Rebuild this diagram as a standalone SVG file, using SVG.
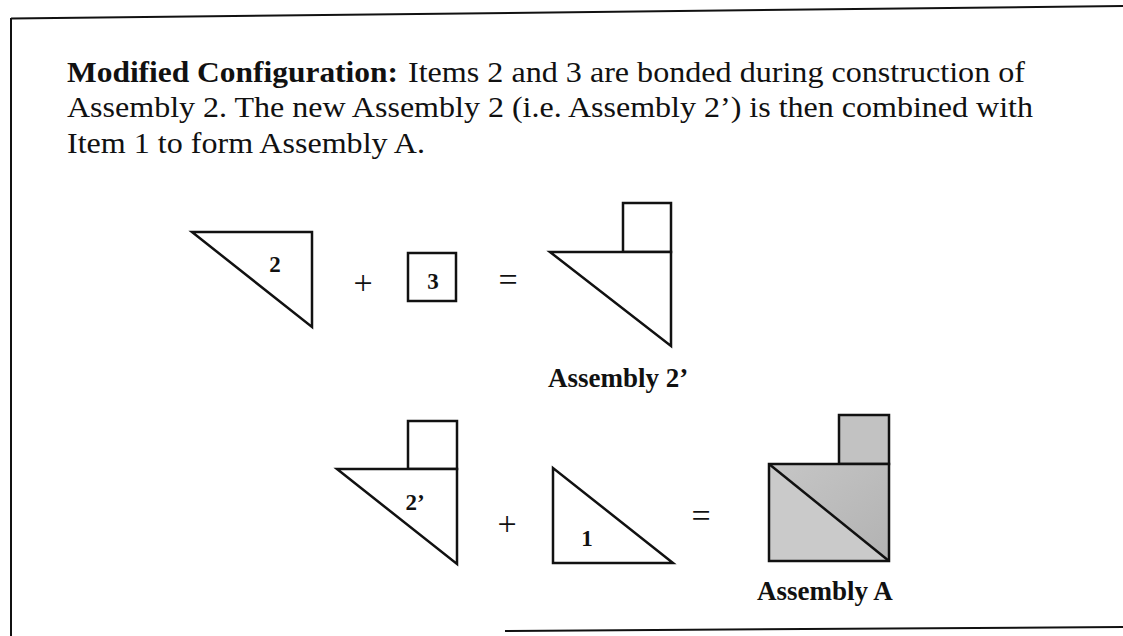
<svg xmlns="http://www.w3.org/2000/svg" width="1123" height="636" viewBox="0 0 1123 636">
  <defs>
    <style>
      .body { font-family: "Liberation Serif", "Times New Roman", serif; font-size: 30px; fill: #111; }
      .bold { font-weight: bold; }
      .lbl { font-family: "Liberation Serif", "Times New Roman", serif; font-weight: bold; font-size: 23px; fill: #111; text-anchor: middle; }
      .cap { font-family: "Liberation Serif", "Times New Roman", serif; font-weight: bold; font-size: 27px; fill: #111; }
      .op { font-family: "Liberation Serif", "Times New Roman", serif; font-size: 34px; fill: #111; text-anchor: middle; }
      .shape { fill: #fff; stroke: #111; stroke-width: 2.5; stroke-linejoin: miter; }
      .frame { fill: none; stroke: #111; stroke-width: 2; }
    </style>
    <linearGradient id="gUR" x1="0" y1="0" x2="1" y2="1">
      <stop offset="0" stop-color="#c6c6c6"/>
      <stop offset="1" stop-color="#b2b2b2"/>
    </linearGradient>
  </defs>
  <rect x="0" y="0" width="1123" height="636" fill="#fff"/>

  <g id="frame">
    <line class="frame" x1="11" y1="18.5" x2="1123" y2="6"/>
    <line class="frame" x1="11" y1="18" x2="11" y2="636"/>
    <line class="frame" x1="505" y1="631" x2="1123" y2="627"/>
  </g>

  <g id="caption">
    <text class="body bold" x="67" y="82" textLength="331" lengthAdjust="spacingAndGlyphs">Modified Configuration:</text>
    <text class="body" x="408" y="82" textLength="617" lengthAdjust="spacingAndGlyphs">Items 2 and 3 are bonded during construction of</text>
    <text class="body" x="67" y="117" textLength="966" lengthAdjust="spacingAndGlyphs">Assembly 2. The new Assembly 2 (i.e. Assembly 2’) is then combined with</text>
    <text class="body" x="67" y="153" textLength="358" lengthAdjust="spacingAndGlyphs">Item 1 to form Assembly A.</text>
  </g>

  <g id="item2">
    <polygon class="shape" points="192,232 312,232 312,327"/>
    <text class="lbl" x="275" y="272">2</text>
  </g>
  <g id="plus1"><text class="op" x="363" y="294">+</text></g>
  <g id="item3">
    <rect class="shape" x="408" y="253" width="48" height="48"/>
    <text class="lbl" x="433" y="289">3</text>
  </g>
  <g id="eq1"><text class="op" x="508" y="291">=</text></g>
  <g id="assembly2p">
    <rect class="shape" x="623" y="203" width="48" height="49"/>
    <polygon class="shape" points="550,252 671,252 671,346"/>
    <text class="cap" x="548" y="387">Assembly 2’</text>
  </g>

  <g id="item2p">
    <rect class="shape" x="408" y="421" width="49" height="48"/>
    <polygon class="shape" points="337,469 457,469 457,564"/>
    <text class="lbl" x="415" y="510">2’</text>
  </g>
  <g id="plus2"><text class="op" x="507" y="535">+</text></g>
  <g id="item1">
    <polygon class="shape" points="553,468 553,563 673,563"/>
    <text class="lbl" x="587" y="546">1</text>
  </g>
  <g id="eq2"><text class="op" x="701" y="527">=</text></g>
  <g id="assemblyA">
    <rect x="839" y="415" width="50" height="49" fill="#c2c2c2" stroke="#111" stroke-width="2.5"/>
    <polygon points="769,464 889,464 889,561" fill="url(#gUR)"/>
    <polygon points="769,464 889,561 769,561" fill="#cacaca"/>
    <rect x="769" y="464" width="120" height="97" fill="none" stroke="#111" stroke-width="2.5"/>
    <line x1="769" y1="464" x2="889" y2="561" stroke="#111" stroke-width="2.5"/>
    <text class="cap" x="757" y="600">Assembly A</text>
  </g>
</svg>
